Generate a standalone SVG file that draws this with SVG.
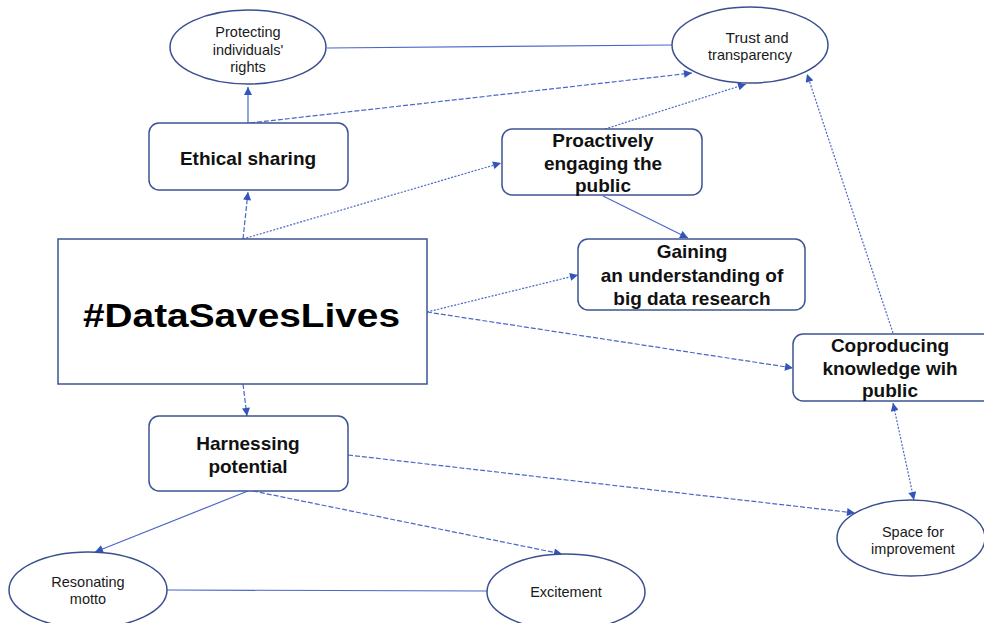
<svg xmlns="http://www.w3.org/2000/svg" width="984" height="623" viewBox="0 0 984 623">
  <style>
    .box { fill: #ffffff; stroke: #3d5394; stroke-width: 1.5; }
    .oval { fill: #ffffff; stroke: #3a4f8f; stroke-width: 1.5; }
    .bold { font-family: "Liberation Sans", Arial, sans-serif; font-weight: bold; font-size: 19px; fill: #111111; text-anchor: middle; }
    .plain { font-family: "Liberation Sans", Arial, sans-serif; font-size: 14.5px; fill: #1a1a1a; text-anchor: middle; }
    .title { font-family: "Liberation Sans", Arial, sans-serif; font-weight: bold; font-size: 33px; fill: #000000; text-anchor: middle; }
    .edge { fill: none; stroke: #4a68c8; stroke-width: 1.2; }
    .dash { stroke-dasharray: 5 2; }
    .dot { stroke-dasharray: 2 1.5; }
    .arrow { marker-end: url(#head); }
  </style>
  <defs>
    <marker id="head" viewBox="0 0 10 10" refX="10" refY="5" markerWidth="9" markerHeight="8" markerUnits="userSpaceOnUse" orient="auto">
      <path d="M0,0 L10,5 L0,10 Z" fill="#3355bb"/>
    </marker>
    <marker id="tail" viewBox="0 0 10 10" refX="0" refY="5" markerWidth="9" markerHeight="8" markerUnits="userSpaceOnUse" orient="auto">
      <path d="M10,0 L0,5 L10,10 Z" fill="#3355bb"/>
    </marker>
  </defs>

  <rect width="984" height="623" fill="#ffffff"/>

  <!-- connectors -->
  <g id="connectors">
    <path class="edge" d="M327,48 L672,45"/>
    <path class="edge arrow" d="M248,123 L248,87"/>
    <path class="edge dash arrow" d="M250,123 L692,73"/>
    <path class="edge dash arrow" d="M243,239 L248,192"/>
    <path class="edge dot arrow" d="M243,239 L501,163"/>
    <path class="edge dot arrow" d="M605,129 L746,84"/>
    <path class="edge arrow" d="M603,196 L688,238"/>
    <path class="edge dot arrow" d="M427,312 L578,275"/>
    <path class="edge dash arrow" d="M427,312 L793,368"/>
    <path class="edge dot arrow" d="M893,333 L807,74"/>
    <path class="edge dot arrow" d="M893,403 L914,500" marker-start="url(#tail)"/>
    <path class="edge dash arrow" d="M243,384 L247,416"/>
    <path class="edge dash arrow" d="M348,455 L855,513"/>
    <path class="edge arrow" d="M248,491 L95,552"/>
    <path class="edge dash arrow" d="M253,491 L562,554"/>
    <path class="edge" d="M167,590 L487,591"/>
  </g>

  <!-- nodes -->
  <g id="protecting">
    <ellipse class="oval" cx="248" cy="47" rx="78" ry="37"/>
    <text class="plain"><tspan x="248" y="37">Protecting</tspan><tspan x="248" y="55">individuals'</tspan><tspan x="248" y="72">rights</tspan></text>
  </g>

  <g id="trust">
    <ellipse class="oval" cx="750" cy="45" rx="78" ry="38"/>
    <text class="plain"><tspan x="757" y="43"><tspan font-size="15.5">Trust</tspan> and</tspan><tspan x="750" y="60">transparency</tspan></text>
  </g>

  <g id="ethical">
    <rect class="box" x="149" y="123" width="199" height="67" rx="10"/>
    <text class="bold" x="248" y="165">Ethical sharing</text>
  </g>

  <g id="proactive">
    <rect class="box" x="502" y="129" width="200" height="66" rx="10"/>
    <text class="bold"><tspan x="603" y="147">Proactively</tspan><tspan x="603" y="170">engaging the</tspan><tspan x="603" y="192">public</tspan></text>
  </g>

  <g id="gaining">
    <rect class="box" x="578" y="239" width="227" height="71" rx="10"/>
    <text class="bold"><tspan x="692" y="258">Gaining</tspan><tspan x="692" y="282">an understanding of</tspan><tspan x="692" y="305">big data research</tspan></text>
  </g>

  <g id="datasaveslives">
    <rect class="box" x="58" y="239" width="369" height="145" rx="0"/>
    <text class="title" x="241.5" y="327" textLength="317" lengthAdjust="spacingAndGlyphs">#DataSavesLives</text>
  </g>

  <g id="coproducing">
    <rect class="box" x="793" y="334" width="205" height="67" rx="10"/>
    <text class="bold"><tspan x="890" y="352">Coproducing</tspan><tspan x="890" y="375">knowledge wih</tspan><tspan x="890" y="397">public</tspan></text>
  </g>

  <g id="harnessing">
    <rect class="box" x="149" y="416" width="199" height="75" rx="10"/>
    <text class="bold"><tspan x="248" y="450">Harnessing</tspan><tspan x="248" y="473">potential</tspan></text>
  </g>

  <g id="space">
    <ellipse class="oval" cx="911" cy="538" rx="74" ry="38"/>
    <text class="plain"><tspan x="913" y="537">Space for</tspan><tspan x="913" y="554">improvement</tspan></text>
  </g>

  <g id="resonating">
    <ellipse class="oval" cx="88" cy="590" rx="79" ry="38"/>
    <text class="plain"><tspan x="88" y="587">Resonating</tspan><tspan x="88" y="604">motto</tspan></text>
  </g>

  <g id="excitement">
    <ellipse class="oval" cx="566" cy="592" rx="79" ry="38"/>
    <text class="plain" x="566" y="597">Excitement</text>
  </g>
</svg>
